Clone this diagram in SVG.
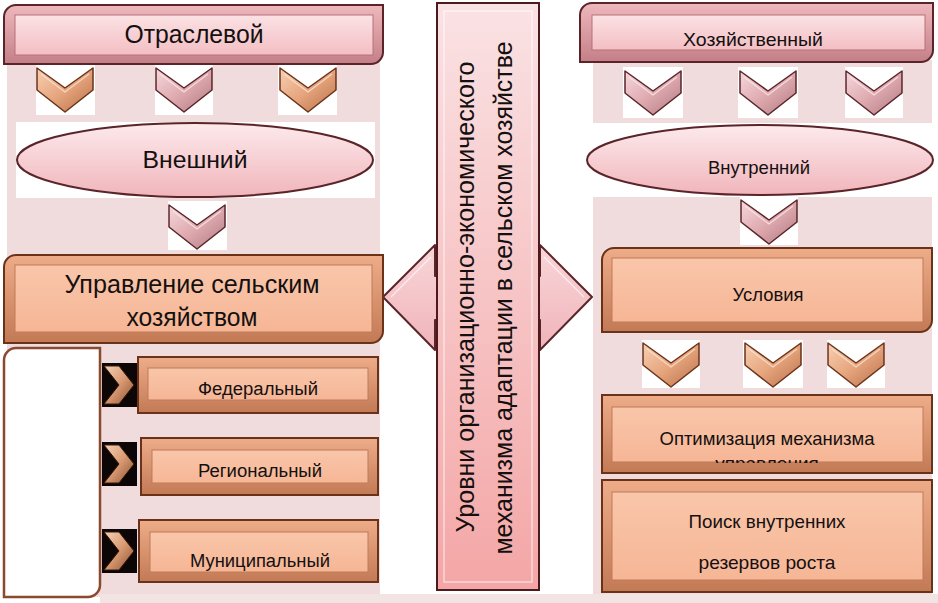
<svg xmlns="http://www.w3.org/2000/svg" width="938" height="603" viewBox="0 0 938 603">
<style>
text{font-family:"Liberation Sans",Arial,sans-serif;fill:#141010;text-anchor:middle}
.t25{font-size:25px}.t24{font-size:24px}.t19{font-size:19px}.t18{font-size:18px}
.rimP{fill:url(#gRimP);stroke:#5a2428;stroke-width:2}
.faceP{fill:url(#gFaceP);stroke:#b87078;stroke-width:1}
.rimO{fill:url(#gRimO);stroke:#6a3218;stroke-width:2}
.faceO{fill:url(#gFaceO);stroke:#c07a58;stroke-width:1}
.bg{fill:#f0dcdc}
.wh{fill:#ffffff}
.dark{fill:#0c0606}
</style>
<defs>
<linearGradient id="gRimP" x1="0" y1="0" x2="0" y2="1"><stop offset="0" stop-color="#eeb8bd"/><stop offset="1" stop-color="#c47f87"/></linearGradient>
<linearGradient id="gFaceP" x1="0" y1="0" x2="0" y2="1"><stop offset="0" stop-color="#fbe2e4"/><stop offset="1" stop-color="#f3bec3"/></linearGradient>
<linearGradient id="gRimO" x1="0" y1="0" x2="0" y2="1"><stop offset="0" stop-color="#eeac88"/><stop offset="1" stop-color="#c27a55"/></linearGradient>
<linearGradient id="gFaceO" x1="0" y1="0" x2="0" y2="1"><stop offset="0" stop-color="#f9c6aa"/><stop offset="1" stop-color="#f6b696"/></linearGradient>
<linearGradient id="gEll" x1="0" y1="0" x2="0" y2="1"><stop offset="0" stop-color="#fdeaec"/><stop offset="1" stop-color="#f0b5bb"/></linearGradient>
<linearGradient id="gBar" x1="0" y1="0" x2="0" y2="1"><stop offset="0" stop-color="#fae2e4"/><stop offset="1" stop-color="#f4a6a6"/></linearGradient>
<linearGradient id="gArrow" x1="0" y1="0" x2="0" y2="1"><stop offset="0" stop-color="#f9d6d9"/><stop offset="1" stop-color="#efb4ba"/></linearGradient>
<linearGradient id="gChevO" x1="0" y1="0" x2="1" y2="1"><stop offset="0" stop-color="#f7d0b4"/><stop offset="0.5" stop-color="#e6a57d"/><stop offset="1" stop-color="#b87048"/></linearGradient>
<linearGradient id="gChevP" x1="0" y1="0" x2="1" y2="1"><stop offset="0" stop-color="#f5d8dc"/><stop offset="0.5" stop-color="#deaab0"/><stop offset="1" stop-color="#b07880"/></linearGradient>
<linearGradient id="gChevR" x1="0" y1="0" x2="1" y2="1"><stop offset="0" stop-color="#f6d2b8"/><stop offset="0.5" stop-color="#d89a72"/><stop offset="1" stop-color="#8a5030"/></linearGradient>
<symbol id="chevO" viewBox="0 0 58 48" width="58" height="48" overflow="visible">
<polygon points="1,3 29,23 57,3 57,25 29,47 1,25" fill="url(#gChevO)" stroke="#6a3218" stroke-width="1.5" stroke-linejoin="round"/>
<polyline points="5,9 29,27 53,9" fill="none" stroke="#fbe4d4" stroke-width="1.2" opacity="0.8"/>
</symbol>
<symbol id="chevP" viewBox="0 0 58 48" width="58" height="48" overflow="visible">
<polygon points="1,3 29,23 57,3 57,25 29,47 1,25" fill="url(#gChevP)" stroke="#5a2428" stroke-width="1.5" stroke-linejoin="round"/>
<polyline points="5,9 29,27 53,9" fill="none" stroke="#fbe8ea" stroke-width="1.2" opacity="0.8"/>
</symbol>
<symbol id="chevR" viewBox="0 0 35 44" width="35" height="44" overflow="visible">
<rect x="0" y="0" width="35" height="44" fill="#0c0606"/>
<polygon points="2,3 17,3 32,22 17,41 2,41 17,22" fill="url(#gChevR)" stroke="#3a1808" stroke-width="1"/>
</symbol>
<clipPath id="clipOpt"><rect x="612" y="407" width="311" height="56"/></clipPath>
</defs>

<!-- backgrounds -->
<g id="backgrounds">
<rect class="bg" x="7" y="60" width="373" height="537"/>
<rect class="bg" x="593" y="60" width="339" height="537"/>
<rect fill="#f3e4e4" x="100" y="594" width="838" height="9"/>
<rect class="wh" x="16" y="122" width="359" height="76"/>
<rect class="wh" x="593" y="123" width="345" height="74"/>
<rect class="wh" x="36" y="65" width="59" height="50"/>
<rect class="wh" x="155" y="65" width="58" height="50"/>
<rect class="wh" x="278" y="65" width="59" height="50"/>
<rect class="wh" x="168" y="201" width="59" height="49"/>
<rect class="wh" x="623" y="67" width="60" height="51"/>
<rect class="wh" x="738" y="67" width="60" height="51"/>
<rect class="wh" x="845" y="67" width="58" height="51"/>
<rect class="wh" x="740" y="197" width="58" height="48"/>
<rect class="wh" x="642" y="340" width="58" height="48"/>
<rect class="wh" x="743" y="340" width="60" height="48"/>
<rect class="wh" x="827" y="340" width="58" height="48"/>
</g>

<!-- connectors -->
<g id="connectors">
<use href="#chevO" x="36" y="65"/>
<use href="#chevP" x="155" y="65"/>
<use href="#chevO" x="279" y="65"/>
<use href="#chevP" x="168" y="202"/>
<use href="#chevP" x="624" y="68"/>
<use href="#chevP" x="739" y="68"/>
<use href="#chevP" x="845" y="68"/>
<use href="#chevP" x="740" y="197"/>
<use href="#chevO" x="642" y="340"/>
<use href="#chevO" x="744" y="340"/>
<use href="#chevO" x="827" y="340"/>
<use href="#chevR" x="102" y="363"/>
<use href="#chevR" x="102" y="442"/>
<use href="#chevR" x="102" y="529"/>
<polygon points="383,297 435,245 435,276 540,276 540,245 592,297 540,350 540,320 435,320 435,350" fill="url(#gArrow)" stroke="#5a2428" stroke-width="2" stroke-linejoin="round"/>
<polyline points="391,297 431,257" fill="none" stroke="#fff" stroke-width="1.5" opacity="0.6"/>
<polyline points="584,297 544,257" fill="none" stroke="#fff" stroke-width="1.5" opacity="0.6"/>
</g>

<!-- left side -->
<g id="node-otraslevoy">
<path class="rimP" d="M16,5 H383 V52 A12,12 0 0 1 371,64 H4 V17 A12,12 0 0 1 16,5 Z"/>
<rect class="faceP" x="15" y="15" width="358" height="40"/>
<text class="t25" x="194" y="43" textLength="139" lengthAdjust="spacingAndGlyphs">Отраслевой</text>
</g>
<g id="node-vneshniy">
<ellipse cx="195" cy="160" rx="178" ry="37" fill="url(#gEll)" stroke="#5a2428" stroke-width="2"/>
<text class="t24" x="195" y="168" textLength="105" lengthAdjust="spacingAndGlyphs">Внешний</text>
</g>
<g id="node-upravlenie">
<path class="rimO" d="M16,255 H383 V331 A12,12 0 0 1 371,343 H4 V267 A12,12 0 0 1 16,255 Z"/>
<rect class="faceO" x="15" y="265" width="357" height="67"/>
<text class="t25" x="192" y="293" textLength="255" lengthAdjust="spacingAndGlyphs">Управление сельским</text>
<text class="t25" x="192" y="326" textLength="131" lengthAdjust="spacingAndGlyphs">хозяйством</text>
</g>
<g id="node-levels-box">
<path d="M16,348 H100 V585 A12,12 0 0 1 88,597 H4 V360 A12,12 0 0 1 16,348 Z" fill="#ffffff" stroke="#8a4a30" stroke-width="2.5"/>
</g>
<g id="node-federal">
<rect class="rimO" x="138" y="357" width="240" height="56"/>
<rect class="faceO" x="148" y="368" width="220" height="32"/>
<text class="t18" x="258" y="395" textLength="120" lengthAdjust="spacingAndGlyphs">Федеральный</text>
</g>
<g id="node-regional">
<rect class="rimO" x="141" y="438" width="237" height="57"/>
<rect class="faceO" x="152" y="450" width="216" height="33"/>
<text class="t18" x="260" y="477" textLength="124" lengthAdjust="spacingAndGlyphs">Региональный</text>
</g>
<g id="node-municipal">
<rect class="rimO" x="139" y="520" width="239" height="62"/>
<rect class="faceO" x="150" y="532" width="218" height="40"/>
<text class="t18" x="260" y="567" textLength="140" lengthAdjust="spacingAndGlyphs">Муниципальный</text>
</g>

<!-- center -->
<g id="node-center">
<rect x="437" y="3" width="102" height="587" fill="url(#gBar)" stroke="#4a1a1e" stroke-width="2"/>
<rect x="444" y="11" width="88" height="571" fill="none" stroke="#ffffff" stroke-width="1.5" opacity="0.55"/>
<text class="t25" transform="translate(474,297) rotate(-90)" x="0" y="0" textLength="471" lengthAdjust="spacingAndGlyphs">Уровни организационно-экономического</text>
<text class="t25" transform="translate(512,298) rotate(-90)" x="0" y="0" textLength="513" lengthAdjust="spacingAndGlyphs">механизма адаптации в сельском хозяйстве</text>
</g>

<!-- right side -->
<g id="node-hozyaystvenny">
<path class="rimP" d="M592,3 H933 V50 A12,12 0 0 1 921,62 H580 V15 A12,12 0 0 1 592,3 Z"/>
<rect class="faceP" x="592" y="15" width="333" height="35"/>
<text class="t19" x="753" y="46" textLength="140" lengthAdjust="spacingAndGlyphs">Хозяйственный</text>
</g>
<g id="node-vnutrenniy">
<ellipse cx="760" cy="160" rx="173" ry="35" fill="url(#gEll)" stroke="#5a2428" stroke-width="2"/>
<text class="t19" x="759" y="174" textLength="102" lengthAdjust="spacingAndGlyphs">Внутренний</text>
</g>
<g id="node-usloviya">
<path class="rimO" d="M614,248 H932 V320 A12,12 0 0 1 920,332 H602 V260 A12,12 0 0 1 614,248 Z"/>
<rect class="faceO" x="612" y="258" width="311" height="64"/>
<text class="t19" x="768" y="301" textLength="71" lengthAdjust="spacingAndGlyphs">Условия</text>
</g>
<g id="node-optimizaciya">
<rect class="rimO" x="602" y="395" width="330" height="78"/>
<rect class="faceO" x="612" y="407" width="311" height="55"/>
<text class="t19" x="767" y="445" textLength="215" lengthAdjust="spacingAndGlyphs">Оптимизация механизма</text>
<text class="t19" x="767" y="470" clip-path="url(#clipOpt)">управления</text>
</g>
<g id="node-poisk">
<rect class="rimO" x="602" y="480" width="330" height="112"/>
<rect class="faceO" x="612" y="492" width="311" height="88"/>
<text class="t19" x="767" y="528" textLength="157" lengthAdjust="spacingAndGlyphs">Поиск внутренних</text>
<text class="t19" x="767" y="569" textLength="137" lengthAdjust="spacingAndGlyphs">резервов роста</text>
</g>
</svg>
